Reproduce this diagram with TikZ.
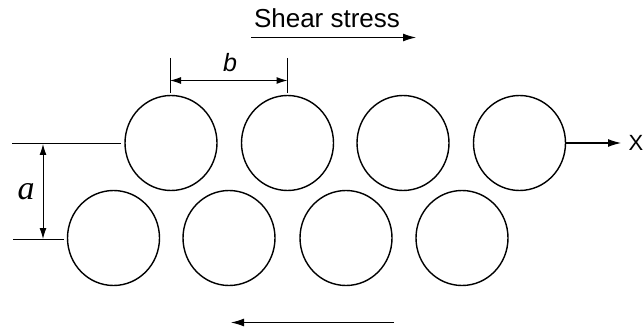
\documentclass[tikz,border=0pt]{standalone}
\usepackage{fontspec}
\setmainfont{Liberation Sans}
\newfontfamily\serifit{Liberation Serif}
\usetikzlibrary{shapes.geometric,arrows.meta,calc}
\begin{document}
\begin{tikzpicture}[x=1pt,y=-1pt,
  disc/.style={ellipse,draw,line width=1.4pt,minimum width=92pt,minimum height=95pt,inner sep=0pt},
  dim/.style={line width=1pt},
  tip/.style={-{Latex[length=13pt,width=8pt]},line width=1.1pt},
  dtip/.style={{Latex[length=11pt,width=7pt]}-{Latex[length=11pt,width=7pt]},line width=1pt}]
\useasboundingbox (0,0) rectangle (644,331);
% top row
\node[disc] (t1) at (171,143) {};
\node[disc] (t2) at (287.5,143) {};
\node[disc] (t3) at (403,143) {};
\node[disc] (t4) at (519.5,143) {};
% bottom row
\node[disc] (b1) at (113.5,238) {};
\node[disc] (b2) at (229,238) {};
\node[disc] (b3) at (346,238) {};
\node[disc] (b4) at (462,238) {};
% shear stress
\node[font=\fontsize{26}{28}\selectfont,inner sep=0pt] (shear) at (327,18) {Shear stress};
\coordinate (s1) at (251,37.5);
\coordinate (s2) at (416,37.5);
\draw[tip] (s1) -- (s2);
\coordinate (r1) at (394,322.5);
\coordinate (r2) at (231,322.5);
\draw[tip] (r1) -- (r2);
% X axis
\coordinate (xend) at (621,143);
\draw[tip] (t4.east) -- (xend);
\node[anchor=east,inner sep=0pt,font=\fontsize{22}{24}\selectfont] (xlab) at (643.5,143) {X};
% b dimension
\coordinate (bt1) at (170,58);
\coordinate (bt2) at (287.5,58);
\coordinate (bb1) at (170,93);
\coordinate (bb2) at (287.5,93);
\draw[dim] (bt1) -- (bb1);
\draw[dim] (bt2) -- (bb2);
\coordinate (ba1) at (170,80.5);
\coordinate (ba2) at (287.5,80.5);
\draw[dtip] (ba1) -- (ba2);
\node[inner sep=0pt,font=\fontsize{25}{27}\selectfont\itshape] (blab) at (230,63) {b};
% a dimension
\coordinate (al1) at (12,144);
\coordinate (al2) at (121,144);
\coordinate (al3) at (13,239);
\coordinate (al4) at (64,239);
\draw[dim] (al1) -- (al2);
\draw[dim] (al3) -- (al4);
\coordinate (aa1) at (43,144);
\coordinate (aa2) at (43,239);
\draw[dtip] (aa1) -- (aa2);
\node[inner sep=0pt,font=\fontsize{34}{36}\serifit\itshape] (alab) at (26,192) {a};
\end{tikzpicture}
\end{document}
